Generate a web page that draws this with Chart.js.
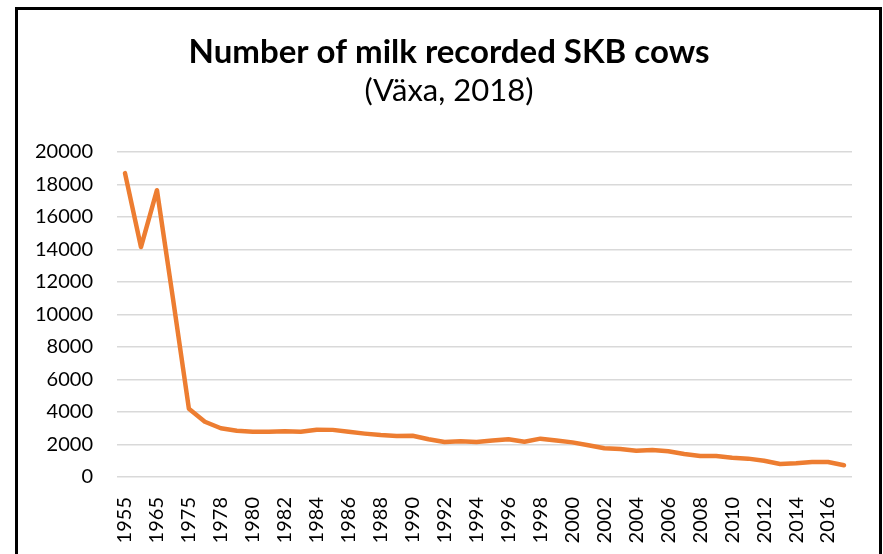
<!DOCTYPE html>
<html>
<head>
<meta charset="utf-8">
<script src="https://cdn.jsdelivr.net/npm/chart.js@4/dist/chart.umd.min.js"></script>
<style>
  body { margin: 0; overflow: hidden; background: #fff; }
  #frame { position: absolute; left: 15px; top: 7px; width: 867px; height: 600px; box-sizing: border-box; border: 3px solid #000; }
  #wrap { position: absolute; left: 0; top: 0; width: 883px; height: 554px; }
</style>
</head>
<body>
<div id="frame"></div>
<div id="wrap"><canvas id="cows"></canvas></div>
<script>
// years on the category axis (only every second one gets a label)
var years = ['1955','1960','1965','1970','1975','1977','1978','1979','1980','1981',
             '1982','1983','1984','1985','1986','1987','1988','1989','1990','1991',
             '1992','1993','1994','1995','1996','1997','1998','1999','2000','2001',
             '2002','2003','2004','2005','2006','2007','2008','2009','2010','2011',
             '2012','2013','2014','2015','2016','2017'];
var cows = [18700,14150,17650,11000,4200,3400,3000,2850,2790,2790,
            2810,2790,2910,2900,2780,2670,2580,2530,2540,2320,
            2150,2200,2150,2240,2320,2170,2360,2240,2130,1950,
            1770,1720,1620,1660,1580,1420,1290,1290,1190,1130,
            1000,800,840,920,920,720];
var yTicks = [0,2000,4000,6000,8000,10000,12000,14000,16000,18000,20000];

var font = 'Lato, Carlito, sans-serif';

// title boxes span the whole canvas; move their left edge so they centre on the frame
var centerTitles = {
    id: 'centerTitles',
    afterLayout: function(chart) {
        chart.boxes.forEach(function(b) {
            if (b.options && typeof b.options.text === 'string') {
                b.left = 46;
                b.width = b.right - b.left;
            }
        });
    }
};

var ctx = document.getElementById('cows').getContext('2d');
var myChart = new Chart(ctx, {
    type: 'line',
    data: {
        labels: years,
        datasets: [{
            label: 'Cows',
            data: cows,
            borderColor: '#ED7D31',
            backgroundColor: '#ED7D31',
            borderWidth: 4.5,
            pointRadius: 0,
            tension: 0,
            borderJoinStyle: 'round',
            borderCapStyle: 'round'
        }]
    },
    plugins: [centerTitles],
    options: {
        responsive: true,
        maintainAspectRatio: false,
        animation: false,
        layout: { padding: { left: 0, right: 31, top: 0, bottom: 0 } },
        plugins: {
            legend: { display: false },
            tooltip: { enabled: false },
            title: {
                display: true,
                text: 'Number of milk recorded SKB cows',
                color: '#000',
                font: { family: font, size: 33, weight: 'bold' },
                padding: { top: 33, bottom: 0 }
            },
            subtitle: {
                display: true,
                text: '(Växa, 2018)',
                color: '#000',
                font: { family: font, size: 31 },
                padding: { top: 0, bottom: 42.2 }
            }
        },
        scales: {
            x: {
                offset: true,
                grid: { display: false },
                border: { display: false },
                ticks: {
                    autoSkip: false,
                    maxRotation: 90,
                    minRotation: 90,
                    padding: 12,
                    color: '#000',
                    font: { family: font, size: 20 },
                    callback: function(val, i) { return i % 2 === 0 ? years[i] : ''; }
                },
                afterFit: function(scale) { scale.height = 77; }
            },
            y: {
                min: 0,
                max: 20000,
                afterBuildTicks: function(scale) {
                    scale.ticks = yTicks.map(function(v) { return { value: v }; });
                },
                grid: { color: '#d9d9d9', lineWidth: 1.5, drawTicks: false },
                border: { display: false },
                ticks: {
                    padding: 24,
                    color: '#000',
                    font: { family: font, size: 20 },
                    callback: function(v) { return String(v); }
                },
                afterFit: function(scale) { scale.width = 117; }
            }
        }
    }
});
</script>
</body>
</html>
